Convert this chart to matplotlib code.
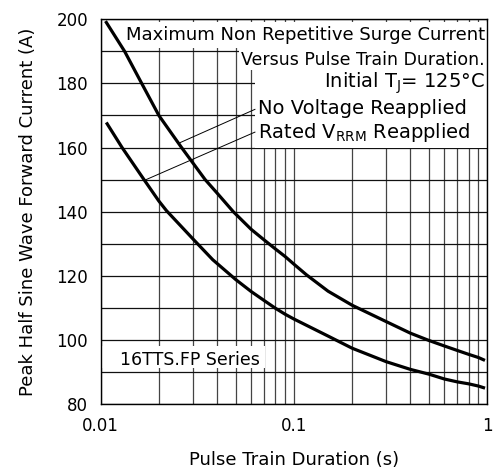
import matplotlib
matplotlib.use("Agg")
import matplotlib.pyplot as plt
from matplotlib.patches import Rectangle
from matplotlib.ticker import FixedLocator, NullFormatter

plt.rcParams['font.family'] = ['DejaVu Sans']
plt.rcParams['mathtext.default'] = 'regular'

# No voltage reapplied (upper curve)
tUpper = [0.0107, 0.0133, 0.0163, 0.020, 0.0262, 0.0347, 0.040, 0.0485, 0.060,
          0.070, 0.080, 0.090, 0.100, 0.116, 0.150, 0.200, 0.300, 0.400, 0.500,
          0.600, 0.700, 0.800, 0.900, 0.956]
iUpper = [199.0, 190.0, 180.0, 170.0, 160.0, 150.0, 145.8, 140.0, 134.5,
          131.2, 128.4, 126.0, 123.6, 120.3, 115.2, 110.8, 105.7, 102.1, 99.8,
          98.1, 96.7, 95.5, 94.5, 93.8]

# Rated VRRM reapplied (lower curve)
tLower = [0.0108, 0.0129, 0.01675, 0.020, 0.0219, 0.030, 0.038, 0.050, 0.060,
          0.070, 0.080, 0.090, 0.100, 0.150, 0.200, 0.300, 0.400, 0.500, 0.600,
          0.700, 0.800, 0.900, 0.956]
iLower = [167.4, 160.0, 150.0, 143.3, 140.3, 131.5, 125.0, 118.8, 115.1,
          112.3, 109.9, 108.0, 106.5, 101.2, 97.4, 93.2, 90.8, 89.3, 87.8,
          86.9, 86.3, 85.6, 85.1]

# leader lines: label anchor -> point on curve
leadNoV = [(0.0628, 171.9), (0.0257, 161.5)]
leadRated = [(0.0628, 164.8), (0.0169, 149.8)]

xMajor = [0.01, 0.1, 1]
xLabels = ['0.01', '0.1', '1']
xMinor = [k * d for d in [0.01, 0.1] for k in range(2, 10)]
yMajor = [80, 100, 120, 140, 160, 180, 200]
yMinor = [90, 110, 130, 150, 170, 190]

fig = plt.figure(figsize=(4.94, 4.70), dpi=100)
ax = fig.add_axes([0.2038, 0.1404, 0.7826, 0.8186])

ax.set_xscale('log')
ax.set_xlim(0.01, 1)
ax.set_ylim(80, 200)

ax.xaxis.set_major_locator(FixedLocator(xMajor))
ax.set_xticklabels(xLabels)
ax.xaxis.set_minor_locator(FixedLocator(xMinor))
ax.xaxis.set_minor_formatter(NullFormatter())
ax.yaxis.set_major_locator(FixedLocator(yMajor))
ax.yaxis.set_minor_locator(FixedLocator(yMinor))

ax.grid(True, which='both', axis='x', color='#444444', linewidth=0.9)
ax.grid(True, which='both', axis='y', color='#111111', linewidth=0.9)
ax.tick_params(which='both', length=0, labelsize=12)
ax.tick_params(axis='y', pad=9)
ax.tick_params(axis='x', pad=9)
for s in ax.spines.values():
    s.set_linewidth(1.0)
    s.set_color('black')
    s.set_zorder(5)

# white areas behind the text
for x0, y0, w, h in [(0.068, 0.925, 0.932, 0.067),
                     (0.358, 0.868, 0.642, 0.060),
                     (0.400, 0.665, 0.600, 0.205),
                     (0.003, 0.094, 0.422, 0.057)]:
    ax.add_patch(Rectangle((x0, y0), w, h, transform=ax.transAxes,
                           facecolor='white', edgecolor='none', zorder=2))

ax.plot(tUpper, iUpper, color='black', linewidth=2.3, zorder=4)
ax.plot(tLower, iLower, color='black', linewidth=2.3, zorder=4)

for lead in [leadNoV, leadRated]:
    ax.plot([p[0] for p in lead], [p[1] for p in lead], color='black',
            linewidth=0.7, zorder=3)

ax.text(0.994, 0.946, 'Maximum Non Repetitive Surge Current', transform=ax.transAxes,
        ha='right', va='baseline', fontsize=13, zorder=6)
ax.text(0.994, 0.881, 'Versus Pulse Train Duration.', transform=ax.transAxes,
        ha='right', va='baseline', fontsize=12.5, zorder=6)
ax.text(0.994, 0.823, 'Initial T$_J$= 125°C', transform=ax.transAxes,
        ha='right', va='baseline', fontsize=14, zorder=6)
ax.text(0.407, 0.753, 'No Voltage Reapplied', transform=ax.transAxes,
        ha='left', va='baseline', fontsize=14, zorder=6)
ax.text(0.407, 0.691, 'Rated V$_{RRM}$ Reapplied', transform=ax.transAxes,
        ha='left', va='baseline', fontsize=14, zorder=6)
ax.text(0.050, 0.101, '16TTS.FP Series', transform=ax.transAxes,
        ha='left', va='baseline', fontsize=12.5, zorder=6)

ax.set_xlabel('Pulse Train Duration (s)', fontsize=13, labelpad=12)
ax.set_ylabel('Peak Half Sine Wave Forward Current (A)', fontsize=13, labelpad=14)

fig.savefig('out.png', dpi=100)
